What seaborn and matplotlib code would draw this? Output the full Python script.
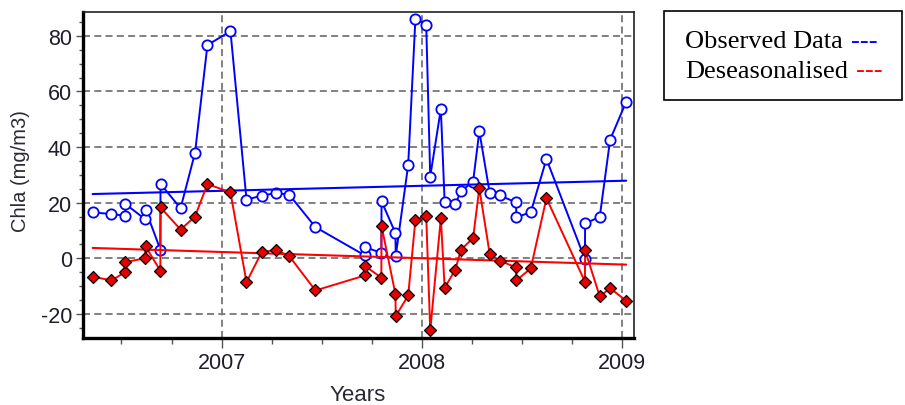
import matplotlib
matplotlib.use("Agg")
import matplotlib.pyplot as plt
from matplotlib.patches import Rectangle
from matplotlib.ticker import MultipleLocator, FixedLocator
import pandas as pd
import seaborn as sns

# Sampling dates (decimal years)
dates = [
    2006.356, 2006.450, 2006.518, 2006.520, 2006.617, 2006.620, 2006.694, 2006.695,
    2006.795, 2006.867, 2006.929, 2007.044, 2007.124, 2007.200, 2007.273, 2007.338,
    2007.468, 2007.715, 2007.716, 2007.797, 2007.798, 2007.867, 2007.869, 2007.931,
    2007.967, 2008.021, 2008.041, 2008.094, 2008.113, 2008.165, 2008.195, 2008.255,
    2008.286, 2008.338, 2008.388, 2008.469, 2008.471, 2008.543, 2008.621, 2008.813,
    2008.814, 2008.887, 2008.939, 2009.019,
]

# Observed chlorophyll-a (mg/m3)
observed = [
    16.5, 15.9, 15.3, 19.5, 14.1, 17.5, 3.1, 26.7,
    18.0, 37.9, 76.7, 81.7, 21.1, 22.5, 23.5, 22.8,
    11.2, 1.0, 4.0, 1.9, 20.5, 9.1, 0.9, 33.6,
    86.1, 84.0, 29.4, 53.7, 20.1, 19.4, 24.1, 27.6,
    45.7, 23.4, 22.6, 20.1, 14.7, 16.6, 35.7, -0.3,
    12.5, 14.9, 42.7, 56.3,
]

# Deseasonalised series
deseasonalised = [
    -6.6, -8.0, -5.0, -1.4, 0.0, 4.3, -4.5, 18.3,
    10.3, 15.0, 26.7, 23.7, -8.6, 2.2, 3.0, 0.7,
    -11.6, -6.2, -2.8, -7.0, 11.6, -12.8, -20.8, -13.4,
    13.8, 15.2, -26.0, 14.4, -10.6, -4.3, 3.1, 7.3,
    25.2, 1.5, -0.9, -3.3, -8.0, -3.6, 21.6, -8.4,
    2.8, -13.7, -10.8, -15.3,
]

# Linear trends (start / end values over the sampling period)
observed_trend = [23.1, 27.9]
deseasonalised_trend = [3.7, -2.3]

year_ticks = [2007, 2008, 2009]
y_ticks = [-20, 0, 20, 40, 60, 80]

sns.set_theme(style="white")
plt.rcParams["font.family"] = ["Liberation Sans", "DejaVu Sans"]

W, H = 905, 406
fig = plt.figure(figsize=(W / 100, H / 100), dpi=100)
ax = fig.add_axes([83 / W, 1 - 339 / H, (634 - 83) / W, (339 - 13) / H])

df = pd.DataFrame({"date": dates, "observed": observed,
                   "deseasonalised": deseasonalised})
trend = pd.DataFrame({"date": [dates[0], dates[-1]],
                      "observed": observed_trend,
                      "deseasonalised": deseasonalised_trend})

blue = "#0000ff"
red = "#ff0000"

sns.lineplot(data=df, x="date", y="observed", sort=False, estimator=None,
             errorbar=None, ax=ax, color=blue, lw=1.4, marker="o", ms=7.4,
             mfc="white", mec=blue, mew=1.3, zorder=3)
sns.lineplot(data=trend, x="date", y="observed", sort=False, estimator=None,
             errorbar=None, ax=ax, color=blue, lw=1.5, zorder=4)
sns.lineplot(data=trend, x="date", y="deseasonalised", sort=False,
             estimator=None, errorbar=None, ax=ax, color=red, lw=1.5, zorder=5)
sns.lineplot(data=df, x="date", y="deseasonalised", sort=False, estimator=None,
             errorbar=None, ax=ax, color=red, lw=1.4, marker="D", ms=6.6,
             mfc="#e60000", mec="black", mew=0.9, zorder=6)

ax.set_xlim(2006.308, 2009.058)
ax.set_ylim(-28.7, 88.6)
ax.xaxis.set_major_locator(FixedLocator(year_ticks))
ax.xaxis.set_minor_locator(MultipleLocator(0.25))
ax.yaxis.set_major_locator(FixedLocator(y_ticks))
ax.yaxis.set_minor_locator(MultipleLocator(5))
ax.set_xticklabels([str(y) for y in year_ticks])
ax.set_yticklabels([str(v) for v in y_ticks])

ax.set_axisbelow(True)
ax.grid(True, which="major", color="#808080", linestyle=(0, (3.6, 2.2)),
        linewidth=1.4)

for side in ("left", "bottom"):
    ax.spines[side].set_linewidth(2.4)
    ax.spines[side].set_color("black")
for side in ("top", "right"):
    ax.spines[side].set_linewidth(1.2)
    ax.spines[side].set_color("#222222")

ax.tick_params(axis="both", which="both", bottom=True, left=True,
               direction="out", colors="#555555", labelcolor="#1e1e2a",
               labelsize=15.5, width=1)
ax.tick_params(axis="y", which="major", length=5, pad=3)
ax.tick_params(axis="y", which="minor", length=3)
ax.tick_params(axis="x", which="major", length=7, pad=3)
ax.tick_params(axis="x", which="minor", length=4.5)

ax.set_xlabel("")
ax.set_ylabel("")
fig.text(21 / W, 1 - 171 / H, "Chla (mg/m3)", rotation=90, ha="center",
         va="center", fontsize=14.5, color="#2a2a35")
fig.text(358 / W, 1 - 401 / H, "Years", ha="center", va="baseline",
         fontsize=16, color="#2a2a35")

# Legend box
fig.patches.append(Rectangle((664 / W, 1 - 101 / H), (902 - 664) / W,
                             (101 - 12) / H, transform=fig.transFigure,
                             fill=False, edgecolor="black", linewidth=1.2))
serif = ["Liberation Serif", "DejaVu Serif"]
fig.text(685 / W, 1 - 48 / H, "Observed Data", family=serif, fontsize=19,
         color="black", va="baseline")
fig.text(851 / W, 1 - 48 / H, "---", family=serif, fontsize=19,
         color=blue, va="baseline")
fig.text(685 / W, 1 - 77.5 / H, "Deseasonalised", family=serif, fontsize=19,
         color="black", va="baseline")
fig.text(856 / W, 1 - 77.5 / H, "---", family=serif, fontsize=19,
         color=red, va="baseline")

fig.savefig("out.png", dpi=100)
